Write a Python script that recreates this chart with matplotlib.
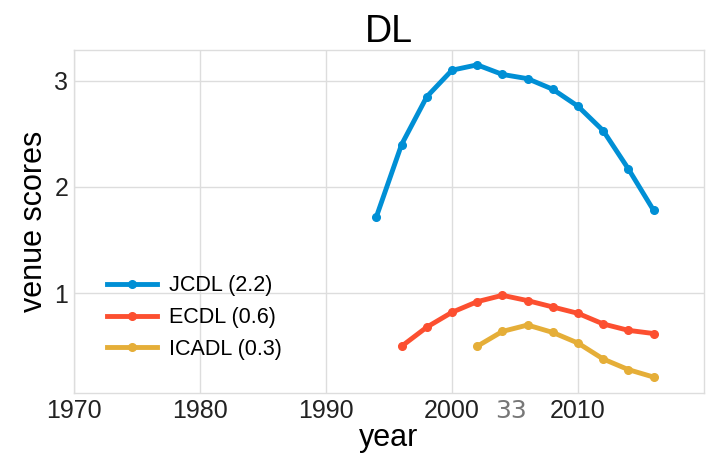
import matplotlib
matplotlib.use("Agg")
import matplotlib.pyplot as plt

plt.rcParams['font.family'] = ['Liberation Sans', 'DejaVu Sans']

# data
years_jcdl = [1994, 1996, 1998, 2000, 2002, 2004, 2006, 2008, 2010, 2012, 2014, 2016]
jcdl = [1.72, 2.40, 2.85, 3.10, 3.15, 3.06, 3.02, 2.92, 2.76, 2.53, 2.17, 1.78]

years_ecdl = [1996, 1998, 2000, 2002, 2004, 2006, 2008, 2010, 2012, 2014, 2016]
ecdl = [0.50, 0.68, 0.82, 0.92, 0.98, 0.93, 0.87, 0.81, 0.71, 0.65, 0.62]

years_icadl = [2002, 2004, 2006, 2008, 2010, 2012, 2014, 2016]
icadl = [0.50, 0.64, 0.70, 0.63, 0.53, 0.38, 0.28, 0.21]

labels = ['JCDL (2.2)', 'ECDL (0.6)', 'ICADL (0.3)']
colors = ['#008fd5', '#fc4f30', '#e5ae38']
xticks = [1970, 1980, 1990, 2000, 2010]
yticks = [1, 2, 3]

fig = plt.figure(figsize=(7.07, 4.58), dpi=100)
ax = fig.add_axes([74 / 707, 65 / 458, 630 / 707, 343 / 458])

series = [(years_jcdl, jcdl), (years_ecdl, ecdl), (years_icadl, icadl)]
for (xs, ys), lab, c in zip(series, labels, colors):
    ax.plot(xs, ys, '-o', color=c, lw=3.5, ms=5.5, label=lab)

ax.set_xlim(1970, 2020)
ax.set_ylim(0.06, 3.29)
ax.set_xticks(xticks)
ax.set_yticks(yticks)
ax.tick_params(labelsize=18, length=0, pad=4, colors='#222222')
ax.grid(True, color='#dddddd', lw=1)
for s in ax.spines.values():
    s.set_color('#dddddd')
    s.set_linewidth(1)

ax.set_title('DL', fontsize=27, pad=5)
ax.set_xlabel('year', fontsize=22, labelpad=0)
ax.set_ylabel('venue scores', fontsize=22, labelpad=4)

ax.legend(loc='lower left', frameon=False, fontsize=15.5, handlelength=2.3,
          bbox_to_anchor=(0.022, 0.04), labelspacing=0.5, handletextpad=0.55)

# page number artefact visible in the reference
fig.text(511 / 707, 47 / 458, '33', fontsize=18, color='#777777',
         ha='center', va='center', family='DejaVu Sans')

fig.savefig('out.png', dpi=100)
